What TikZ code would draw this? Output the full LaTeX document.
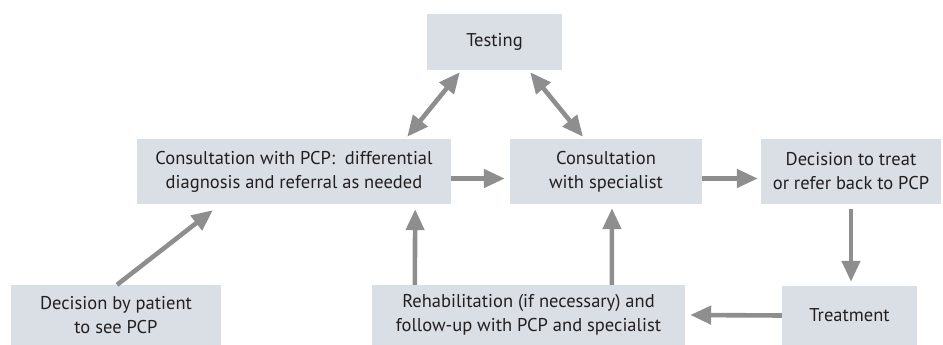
\documentclass[tikz,border=0pt]{standalone}
\usepackage{fontspec}
\setmainfont{PT Sans}
\usetikzlibrary{arrows.meta,calc}
\definecolor{boxfill}{HTML}{D9DFE5}
\definecolor{arrowgray}{HTML}{8E8E8E}
\definecolor{txt}{HTML}{231F20}
\tikzset{
  flowbox/.style={fill=boxfill, draw=none, inner sep=0pt, align=center, text=txt,
    font=\fontsize{18.5}{24}\selectfont},
  flowarrow/.style={draw=arrowgray, line width=4.6pt, -{Triangle[length=21pt,width=18pt]}},
  dblarrow/.style={draw=arrowgray, line width=4.6pt, {Triangle[length=21pt,width=18pt]}-{Triangle[length=21pt,width=18pt]}}
}
\begin{document}
\begin{tikzpicture}[x=1pt,y=-1pt]
\useasboundingbox (0,0) rectangle (943,345);
\node[flowbox, minimum width=135pt, minimum height=56pt] (test) at (494.5,42) {Testing};
\node[flowbox, minimum width=314pt, minimum height=65pt] (pcp) at (294,171.5) {Consultation with PCP:\ \ differential\\diagnosis and referral as needed};
\node[flowbox, minimum width=192pt, minimum height=65pt] (spec) at (606,171.5) {Consultation\\with specialist};
\node[flowbox, minimum width=180pt, minimum height=65pt] (dec) at (851,171.5) {Decision to treat\\or refer back to PCP};
\node[flowbox, minimum width=135pt, minimum height=59pt] (treat) at (849.5,315.5) {Treatment};
\node[flowbox, minimum width=313pt, minimum height=60pt] (rehab) at (528.5,315) {Rehabilitation (if necessary) and\\follow-up with PCP and specialist};
\node[flowbox, minimum width=210pt, minimum height=60pt] (pat) at (116,315) {Decision by patient\\to see PCP};

% patient -> pcp
\draw[flowarrow] ([xshift=1pt]pat.north) -- ([xshift=76pt,yshift=-6pt]pcp.south west);
% pcp -> spec
\draw[flowarrow] ([yshift=-7pt]pcp.east) -- ([xshift=-5pt,yshift=-7pt]spec.west);
% spec -> dec
\draw[flowarrow] ([yshift=-7pt]spec.east) -- ([xshift=-3pt,yshift=-7pt]dec.west);
% dec -> treat
\draw[flowarrow] ([yshift=-5pt]dec.south) -- ([yshift=4pt,xshift=1.5pt]treat.north);
% treat -> rehab
\draw[flowarrow] (treat.west) -- ([xshift=5pt]rehab.east);
% rehab -> pcp, rehab -> spec
\draw[flowarrow] ([xshift=43pt]rehab.north west) -- ([xshift=-36pt,yshift=-5pt]pcp.south east);
\draw[flowarrow] ([xshift=240pt]rehab.north west) -- ([xshift=6pt,yshift=-4pt]spec.south);
% testing <-> pcp, spec
\draw[dblarrow] ([xshift=33pt,yshift=-2pt]test.south west) -- ([xshift=-44pt,yshift=2pt]pcp.north east);
\draw[dblarrow] ([xshift=-32pt,yshift=-2pt]test.south east) -- ([xshift=-23pt,yshift=2pt]spec.north);
\end{tikzpicture}
\end{document}
